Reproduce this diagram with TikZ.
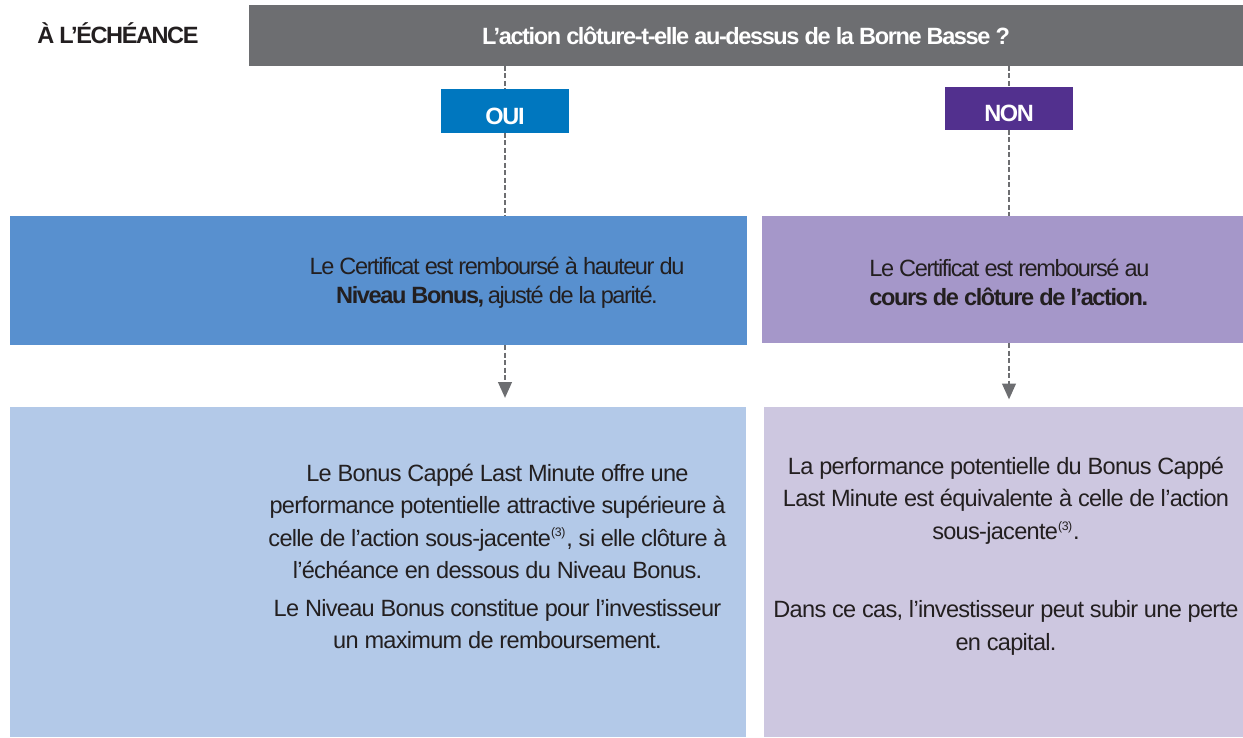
\documentclass[tikz,border=0pt]{standalone}
\usepackage{fontspec}
\setmainfont{Liberation Sans}
\newfontfamily\tightfont[LetterSpace=-6]{Liberation Sans}
\newfontfamily\softfont[LetterSpace=-3]{Liberation Sans}
\usepackage{xcolor}
\usetikzlibrary{arrows.meta, positioning}

\definecolor{headgray}{HTML}{6D6E71}
\definecolor{ouiblue}{HTML}{0077BF}
\definecolor{nonpurple}{HTML}{52308E}
\definecolor{midblue}{HTML}{5890CF}
\definecolor{midpurple}{HTML}{A597C9}
\definecolor{paleblue}{HTML}{B3C9E8}
\definecolor{palepurple}{HTML}{CDC7E0}
\definecolor{inkdark}{HTML}{231F20}

\begin{document}
\begin{tikzpicture}[
    panel/.style={rectangle,inner sep=0pt,outer sep=0pt},
    tag/.style={panel,text=white,font=\tightfont\fontsize{13.4}{16}\selectfont\bfseries,minimum width=2.56cm,text height=0.54cm,text depth=0pt},
    uptext/.style={text=inkdark,inner sep=0pt,font=\tightfont\fontsize{13.4}{16.5}\selectfont},
    lowtext/.style={text=inkdark,inner sep=0pt,align=center,font=\softfont\fontsize{13.4}{18.5}\selectfont},
    dashline/.style={headgray,line width=1.5pt,dash pattern=on 1mm off 0.5mm},
    tip/.style={-{Triangle[width=2.7mm,length=3.2mm]}}
  ]
    \useasboundingbox (0,0) rectangle (24.86,14.74);

    % Question
    \node[anchor=west,text=inkdark,inner sep=0pt,font=\tightfont\fontsize{13.4}{16}\selectfont\bfseries] (title) at (0.74,14.08) {À L’ÉCHÉANCE};
    \node[panel,fill=headgray,minimum width=19.88cm,minimum height=1.22cm,text=white,font=\tightfont\fontsize{13.4}{16}\selectfont\bfseries] (header) at (14.92,14.03) {L’action clôture-t-elle au-dessus de la Borne Basse ?};

    % Branche OUI
    \node[tag,fill=ouiblue,minimum height=0.88cm] (oui) at (10.1,12.52) {OUI};
    \node[panel,fill=midblue,minimum width=14.74cm,minimum height=2.58cm] (blue) at (7.57,9.13) {};
    \node[uptext,align=center] (bluetxt) at (9.94,9.09) {Le Certificat est remboursé à hauteur du\\ \textbf{Niveau Bonus,} ajusté de la parité.};
    \node[panel,fill=paleblue,minimum width=14.72cm,minimum height=6.6cm] (lightblue) at (7.56,3.30) {};
    \node[lowtext] (lightbluetxt) at (9.95,3.61) {Le Bonus Cappé Last Minute offre une\\ performance potentielle attractive supérieure à\\ celle de l’action sous-jacente\textsuperscript{\scriptsize(3)}, si elle clôture à\\ l’échéance en dessous du Niveau Bonus.\\[3pt] Le Niveau Bonus constitue pour l’investisseur\\ un maximum de remboursement.};

    \draw[dashline] (oui.north |- header.south) -- (oui.north);
    \draw[dashline] (oui.south) -- (oui.south |- blue.north);
    \draw[dashline,tip,shorten >=0.18cm] (oui.south |- blue.south) -- (oui.south |- lightblue.north);

    % Branche NON
    \node[tag,fill=nonpurple,minimum height=0.86cm] (non) at (20.18,12.57) {NON};
    \node[panel,fill=midpurple,minimum width=9.62cm,minimum height=2.54cm] (purple) at (20.05,9.15) {};
    \node[uptext,anchor=west,align=left] (purpletxt) at (17.38,9.09) {Le Certificat est remboursé au\\ \textbf{cours de clôture de l’action.}};
    \node[panel,fill=palepurple,minimum width=9.58cm,minimum height=6.6cm] (lightpurple) at (20.07,3.30) {};
    \node[lowtext] (lightpurpletxt) at (20.12,3.62) {La performance potentielle du Bonus Cappé\\ Last Minute est équivalente à celle de l’action\\ sous-jacente\textsuperscript{\scriptsize(3)}.\\[26pt] Dans ce cas, l’investisseur peut subir une perte\\ en capital.};

    \draw[dashline] (non.north |- header.south) -- (non.north);
    \draw[dashline] (non.south) -- (non.south |- purple.north);
    \draw[dashline,tip,shorten >=0.15cm] (non.south |- purple.south) -- (non.south |- lightpurple.north);
\end{tikzpicture}
\end{document}
